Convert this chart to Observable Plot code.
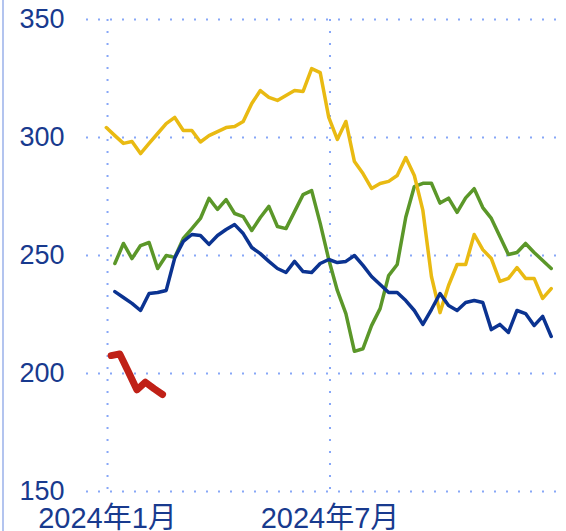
<!DOCTYPE html>
<html><head><meta charset="utf-8">
<script src="https://cdn.jsdelivr.net/npm/d3@7"></script>
<script src="https://cdn.jsdelivr.net/npm/@observablehq/plot@0.6"></script>
<style>
body{margin:0;background:#fff;}
#chart{position:relative;width:566px;height:531px;overflow:hidden;}
#chart::before{content:"";position:absolute;left:2px;top:0;width:2px;height:531px;background:#b3c4ef;z-index:2;}
svg{display:block;}
</style></head><body><div id="chart"></div>
<script>
const weeks = ["2023-12-31","2024-01-07","2024-01-14","2024-01-21","2024-01-28","2024-02-04","2024-02-11","2024-02-18","2024-02-25","2024-03-03","2024-03-10","2024-03-17","2024-03-24","2024-03-31","2024-04-07","2024-04-14","2024-04-21","2024-04-28","2024-05-05","2024-05-12","2024-05-19","2024-05-26","2024-06-02","2024-06-09","2024-06-16","2024-06-23","2024-06-30","2024-07-07","2024-07-14","2024-07-21","2024-07-28","2024-08-04","2024-08-11","2024-08-18","2024-08-25","2024-09-01","2024-09-08","2024-09-15","2024-09-22","2024-09-29","2024-10-06","2024-10-13","2024-10-20","2024-10-27","2024-11-03","2024-11-10","2024-11-17","2024-11-24","2024-12-01","2024-12-08","2024-12-15","2024-12-22","2024-12-29"];
const yellow = [304.2,300.8,297.5,298.3,293.2,297.5,301.7,305.9,308.5,303,303,298.1,300.8,302.5,304.2,304.7,306.8,314.4,319.9,317,315.7,317.8,319.9,319.5,329.2,327.5,308.5,299.2,306.8,289.8,284.7,278.4,280.5,281.4,283.9,291.5,283.9,269.1,241.1,225.8,237.3,246.2,246.2,258.9,252.5,248.7,239,240.3,244.9,240.3,240.3,231.8,236];
const green = [null,246.6,255.1,248.7,254.2,255.5,244.5,250,249.2,257.2,261.4,265.7,274.2,269.5,273.7,267.8,266.5,260.6,266.1,270.8,262.3,261.4,268.6,275.8,277.5,263.6,248.3,235.2,225.4,209.4,210.5,220.3,227.5,241.5,246.2,266.2,279.2,280.6,280.6,272.2,274.3,268.3,274.4,278.3,270.3,265.7,258,250.4,251.3,255.1,251.3,247.9,244.5];
const navy = [null,234.7,232.2,229.7,226.7,233.9,234.3,235.2,249,256,258.9,258.5,254.7,258.5,261.0,263.1,259.3,253.4,250.8,247.5,244.5,242.8,247.5,243.2,242.8,246.6,248.3,247.0,247.5,250.0,245.8,241.1,237.7,234.3,234.3,230.9,226.7,220.8,227.1,233.9,228.8,226.7,230.1,230.9,230.1,218.6,220.8,217.4,226.7,225.4,220.3,224.2,215.7];
const redDates = ["2024-01-04","2024-01-11","2024-01-18","2024-01-25","2024-02-01","2024-02-08","2024-02-15"];
const red = [207.6,208.3,200.8,193.1,196.3,193.6,191.1];
const yTicks = [150,200,250,300,350];
const xTicks = ["2024-01-01","2024-07-01"];
const xTickLabels = ["2024年1月","2024年7月"];

const toRows = (dates, vals) => dates.map((d,i)=>({date:new Date(d), value:vals[i]}));
const labelOf = new Map(xTicks.map((d,i)=>[+new Date(d), xTickLabels[i]]));
const xTickDates = xTicks.map(d=>new Date(d));
const gridColor = "#87a7f7";
const textColor = "#183a8e";

const chart = Plot.plot({
  width: 566, height: 531,
  marginLeft: 86, marginRight: 0, marginTop: 19, marginBottom: 40,
  style: {fontFamily: "'Liberation Sans', 'Noto Sans CJK JP', sans-serif", background: "#fff", overflow: "visible"},
  x: {type: "utc", domain: [new Date("2023-12-14T19:00Z"), new Date("2025-01-10T12:00Z")], axis: null},
  y: {domain: [150, 350], axis: null},
  marks: [
    Plot.gridY(yTicks, {stroke: gridColor, strokeOpacity: 1, strokeWidth: 2, strokeDasharray: "2,10"}),
    Plot.gridX(xTickDates, {stroke: gridColor, strokeOpacity: 1, strokeWidth: 2, strokeDasharray: "2,10"}),
    Plot.axisY(yTicks, {label: null, tickSize: 0, tickPadding: 22, fontSize: 27, fill: textColor}),
    Plot.axisX(xTickDates, {label: null, tickSize: 0, tickPadding: 16, fontSize: 29, fill: textColor, tickFormat: d => labelOf.get(+d)}),
    Plot.line(toRows(weeks, green), {x: "date", y: "value", stroke: "#5b9729", strokeWidth: 3.5}),
    Plot.line(toRows(weeks, yellow), {x: "date", y: "value", stroke: "#e9ba12", strokeWidth: 3.5}),
    Plot.line(toRows(weeks, navy), {x: "date", y: "value", stroke: "#0b3391", strokeWidth: 3.5}),
    Plot.line(toRows(redDates, red), {x: "date", y: "value", stroke: "#c02117", strokeWidth: 7})
  ]
});
document.getElementById("chart").appendChild(chart);
</script></body></html>
